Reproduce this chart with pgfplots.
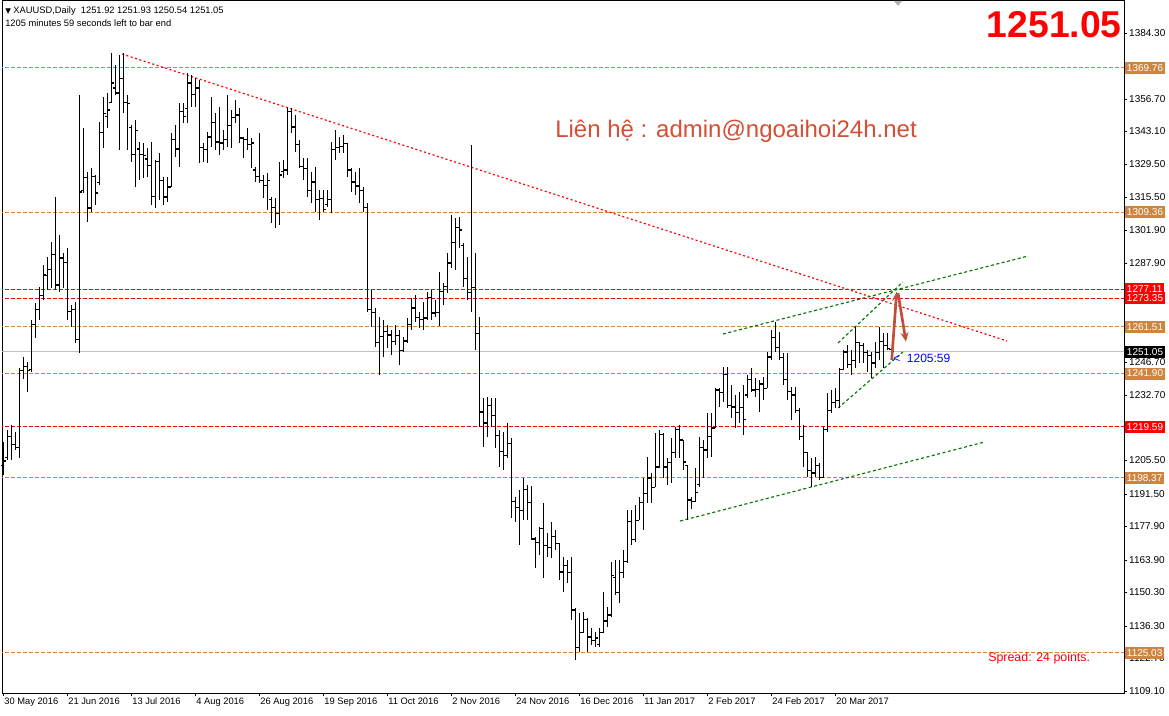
\documentclass[border=0pt]{standalone}
\usepackage{fontspec}
\setmainfont{Liberation Sans}
\newfontfamily\dejavu{DejaVu Sans}
\usepackage{pgfplots}
\usepackage{pgfplotstable}
\pgfplotsset{compat=1.18}
\usetikzlibrary{arrows.meta}
\definecolor{peru}{RGB}{205,133,63}
\definecolor{mtgreen}{RGB}{0,120,0}
\definecolor{arrowred}{RGB}{192,78,58}
\definecolor{contact}{RGB}{214,78,52}
\definecolor{bidgray}{RGB}{192,192,192}
\pgfdeclareplotmark{otick}{\pgfpathmoveto{\pgfqpoint{-1.9pt}{0pt}}\pgfpathlineto{\pgfqpoint{0pt}{0pt}}\pgfusepathqstroke}
\pgfdeclareplotmark{ctick}{\pgfpathmoveto{\pgfqpoint{0pt}{0pt}}\pgfpathlineto{\pgfqpoint{1.9pt}{0pt}}\pgfusepathqstroke}
\pgfplotstableread{
k o h l c
0 1203.6 1213.3 1199.5 1205.3
1 1206.6 1218.3 1205.7 1215.4
2 1215.4 1220.4 1205.7 1212.4
3 1212.4 1217.4 1209.9 1210.8
4 1210.8 1244.2 1206.6 1243.0
5 1243.0 1248.8 1239.6 1245.0
6 1245.0 1246.7 1234.2 1243.0
7 1243.4 1264.3 1242.5 1262.2
8 1262.2 1271.4 1256.8 1268.5
9 1268.5 1278.1 1264.3 1274.7
10 1274.7 1287.3 1272.6 1283.1
11 1282.7 1290.6 1276.8 1285.2
12 1285.2 1296.9 1277.7 1291.5
13 1291.5 1315.7 1276.8 1278.9
14 1278.9 1299.8 1276.0 1290.2
15 1290.2 1292.3 1277.7 1288.5
16 1288.5 1294.4 1264.3 1268.0
17 1268.0 1270.6 1261.4 1268.5
18 1268.5 1271.8 1254.7 1256.3
19 1256.3 1358.4 1250.5 1317.8
20 1318.6 1344.6 1317.4 1323.7
21 1323.7 1326.2 1305.3 1311.1
22 1311.1 1327.8 1309.4 1324.1
23 1324.1 1324.9 1312.4 1317.4
24 1321.6 1347.1 1320.7 1342.5
25 1342.5 1357.5 1336.2 1350.8
26 1349.2 1359.2 1344.6 1352.1
27 1355.4 1375.9 1355.0 1363.4
28 1361.3 1370.9 1358.4 1359.2
29 1359.2 1375.1 1335.4 1365.1
30 1365.1 1375.9 1350.8 1355.4
31 1355.4 1358.4 1335.4 1355.0
32 1344.6 1345.8 1330.4 1333.3
33 1333.3 1347.9 1319.9 1343.7
34 1335.8 1338.7 1322.8 1333.3
35 1333.3 1338.3 1323.7 1332.9
36 1331.6 1336.2 1324.1 1328.7
37 1328.7 1338.7 1312.4 1316.1
38 1316.1 1331.2 1311.1 1330.4
39 1330.4 1334.1 1314.5 1322.8
40 1322.8 1324.1 1312.4 1315.7
41 1315.7 1324.1 1313.6 1319.9
42 1319.9 1342.5 1319.9 1339.6
43 1339.6 1345.8 1332.4 1335.8
44 1335.8 1355.0 1328.3 1351.3
45 1351.3 1355.0 1346.7 1349.2
46 1352.9 1367.6 1346.7 1363.4
47 1363.4 1366.7 1353.4 1358.4
48 1358.4 1365.5 1353.4 1361.3
49 1361.3 1364.6 1329.9 1336.6
50 1336.6 1338.3 1330.4 1335.4
51 1335.4 1342.9 1329.9 1340.8
52 1340.8 1357.5 1336.6 1346.7
53 1346.7 1350.8 1335.4 1338.7
54 1338.7 1353.4 1333.3 1338.3
55 1338.3 1343.7 1335.4 1339.6
56 1339.6 1358.4 1336.6 1345.8
57 1345.8 1352.1 1336.2 1348.8
58 1348.8 1356.3 1346.7 1350.0
59 1350.0 1352.9 1338.3 1340.4
60 1340.4 1340.8 1332.0 1339.6
61 1339.6 1344.6 1335.4 1337.5
62 1337.5 1340.4 1327.8 1338.3
63 1327.0 1328.3 1322.0 1324.1
64 1324.1 1342.5 1321.6 1322.8
65 1322.8 1324.9 1315.3 1320.7
66 1320.7 1325.8 1310.3 1322.8
67 1314.5 1315.7 1304.8 1311.5
68 1311.5 1315.3 1302.8 1309.0
69 1309.0 1330.4 1304.0 1324.9
70 1326.2 1331.2 1323.7 1327.0
71 1327.0 1352.9 1324.9 1351.3
72 1351.3 1352.9 1342.5 1345.0
73 1345.0 1350.0 1334.5 1337.5
74 1337.5 1339.6 1327.8 1328.3
75 1328.3 1332.0 1322.8 1327.8
76 1327.8 1332.0 1315.7 1318.6
77 1318.6 1326.2 1313.2 1322.0
78 1322.0 1328.3 1309.4 1314.5
79 1314.5 1318.6 1306.1 1314.9
80 1314.9 1318.6 1309.4 1310.3
81 1312.4 1318.6 1311.5 1314.5
82 1314.5 1338.7 1309.0 1335.4
83 1335.4 1343.7 1331.2 1336.6
84 1336.6 1340.8 1334.1 1337.0
85 1337.0 1341.6 1334.1 1337.9
86 1337.9 1338.3 1324.1 1327.0
87 1327.0 1327.8 1317.8 1322.0
88 1322.0 1326.2 1316.6 1320.3
89 1320.3 1327.8 1313.2 1318.6
90 1318.6 1319.9 1309.4 1311.5
91 1311.5 1313.2 1267.6 1268.5
92 1268.5 1276.8 1261.4 1267.6
93 1267.6 1269.3 1253.0 1254.7
94 1254.7 1265.5 1241.3 1257.2
95 1257.2 1264.3 1248.8 1259.3
96 1259.3 1262.2 1252.6 1258.0
97 1258.0 1260.1 1249.6 1255.1
98 1255.1 1262.2 1253.8 1257.6
99 1257.6 1260.1 1245.5 1251.7
100 1251.7 1257.2 1250.9 1255.5
101 1255.5 1265.1 1254.7 1262.2
102 1262.2 1273.5 1260.1 1269.3
103 1269.3 1274.7 1263.4 1265.5
104 1265.5 1267.6 1260.9 1264.3
105 1264.3 1271.8 1260.1 1265.1
106 1265.1 1276.0 1264.3 1273.5
107 1273.5 1276.8 1264.3 1267.2
108 1267.2 1272.6 1265.5 1267.6
109 1267.6 1284.3 1261.8 1276.0
110 1276.0 1279.8 1270.6 1278.1
111 1278.1 1292.3 1275.6 1288.1
112 1288.1 1308.2 1286.0 1296.5
113 1296.5 1306.9 1285.2 1302.8
114 1302.8 1307.4 1294.4 1301.9
115 1295.6 1296.5 1278.1 1281.8
116 1281.8 1290.6 1272.6 1275.6
117 1275.6 1337.5 1267.6 1277.7
118 1277.7 1292.3 1251.7 1258.8
119 1258.8 1265.5 1219.5 1225.8
120 1225.8 1231.7 1211.2 1221.2
121 1221.2 1232.1 1215.4 1228.7
122 1228.7 1231.7 1219.5 1224.5
123 1224.5 1231.7 1210.8 1215.8
124 1215.8 1218.3 1202.8 1209.1
125 1209.1 1217.4 1201.5 1207.8
126 1207.8 1221.2 1206.6 1212.8
127 1212.8 1214.9 1181.5 1188.2
128 1188.2 1190.3 1179.8 1185.7
129 1185.7 1193.2 1170.2 1184.8
130 1184.8 1198.2 1180.6 1193.2
131 1193.2 1195.3 1180.6 1187.8
132 1187.8 1194.9 1172.3 1172.7
133 1172.7 1173.5 1160.6 1171.4
134 1171.4 1177.7 1166.0 1176.9
135 1176.9 1187.8 1156.4 1169.8
136 1169.8 1175.2 1165.2 1169.3
137 1169.3 1179.8 1164.7 1173.9
138 1173.9 1176.5 1168.1 1171.0
139 1171.0 1171.0 1155.5 1158.9
140 1158.9 1165.2 1150.5 1161.8
141 1161.8 1163.9 1154.3 1158.5
142 1158.5 1165.2 1138.8 1143.0
143 1143.0 1143.8 1122.1 1127.5
144 1127.5 1141.7 1125.4 1133.4
145 1133.4 1142.2 1133.4 1139.2
146 1139.2 1139.6 1125.4 1131.7
147 1131.7 1135.5 1128.4 1130.4
148 1130.4 1133.8 1127.5 1131.3
149 1128.4 1135.5 1127.5 1133.4
150 1133.4 1150.5 1133.4 1138.4
151 1138.4 1144.3 1135.9 1140.9
152 1140.9 1163.1 1140.1 1157.6
153 1156.4 1163.9 1149.3 1150.5
154 1150.5 1163.9 1145.9 1158.5
155 1158.5 1168.1 1156.4 1163.1
156 1163.1 1184.8 1162.7 1180.2
157 1180.2 1184.8 1170.2 1172.3
158 1172.3 1186.9 1171.4 1180.6
159 1180.6 1190.3 1180.6 1187.8
160 1187.8 1198.2 1176.5 1191.9
161 1191.9 1207.0 1187.8 1198.2
162 1198.2 1200.3 1187.8 1194.4
163 1194.4 1217.0 1194.4 1202.8
164 1202.8 1218.3 1202.4 1216.2
165 1216.2 1217.0 1198.2 1202.8
166 1202.8 1206.6 1195.3 1204.5
167 1204.5 1214.9 1196.1 1208.7
168 1208.7 1219.5 1206.6 1218.3
169 1218.3 1220.4 1206.6 1214.1
170 1214.1 1214.1 1201.5 1204.9
171 1203.6 1203.6 1180.6 1189.0
172 1189.0 1190.3 1185.1 1188.2
173 1188.2 1202.4 1188.2 1192.3
174 1195.3 1215.4 1194.4 1210.8
175 1210.8 1214.1 1198.2 1209.9
176 1209.9 1225.4 1206.6 1215.4
177 1215.4 1225.4 1207.0 1219.1
178 1219.1 1235.8 1219.1 1235.0
179 1235.0 1235.8 1227.9 1233.8
180 1233.8 1244.6 1230.0 1241.3
181 1241.3 1244.6 1227.5 1228.7
182 1228.7 1237.1 1223.3 1227.9
183 1227.9 1232.9 1219.1 1225.4
184 1225.4 1234.2 1221.2 1227.5
185 1227.5 1237.1 1216.2 1222.5
186 1232.9 1241.3 1231.7 1239.2
187 1239.2 1244.2 1234.2 1235.0
188 1235.0 1240.0 1232.1 1235.4
189 1235.4 1239.2 1225.8 1237.5
190 1237.5 1240.4 1230.8 1235.8
191 1235.8 1250.9 1235.8 1248.8
192 1248.8 1260.1 1247.5 1256.8
193 1256.8 1263.4 1250.9 1252.6
194 1252.6 1259.3 1247.5 1248.4
195 1248.4 1250.5 1237.1 1239.2
196 1239.2 1250.5 1230.8 1234.2
197 1234.2 1236.3 1222.5 1232.9
198 1232.9 1236.3 1225.4 1226.6
199 1226.6 1227.5 1214.1 1215.4
200 1215.4 1220.4 1202.8 1208.7
201 1208.7 1209.1 1198.6 1201.5
202 1201.5 1206.6 1194.4 1200.3
203 1200.3 1207.0 1198.6 1203.6
204 1203.6 1204.5 1197.4 1198.6
205 1198.6 1219.5 1198.2 1218.3
206 1218.3 1233.8 1217.4 1226.6
207 1226.6 1235.0 1225.4 1229.6
208 1229.6 1235.8 1227.5 1230.8
209 1230.8 1244.2 1227.5 1243.4
210 1243.4 1251.7 1243.4 1250.9
211 1250.9 1253.8 1244.2 1245.5
212 1245.5 1251.7 1241.3 1247.5
213 1247.5 1261.4 1244.2 1254.7
214 1254.7 1255.1 1246.3 1253.8
215 1253.8 1254.7 1246.3 1250.5
216 1250.5 1251.7 1242.5 1249.6
217 1249.6 1250.9 1240.0 1246.3
218 1246.3 1255.1 1244.2 1250.5
219 1250.5 1261.4 1247.5 1255.1
220 1255.1 1258.8 1244.2 1253.8
221 1253.8 1258.8 1251.7 1252.2
222 1251.92 1251.93 1250.54 1251.05
}\bars

\begin{document}
\begin{tikzpicture}
\begin{axis}[
  at={(1.5pt,-519.75pt)}, anchor=south west,
  width=841.5pt, height=519pt, scale only axis,
  xmin=-0.325, xmax=280.175, ymin=1108.29, ymax=1397.68,
  axis line style={black, line width=0.75pt},
  xtick={0,16,...,208},
  xticklabels={30 May 2016,21 Jun 2016,13 Jul 2016,4 Aug 2016,26 Aug 2016,19 Sep 2016,11 Oct 2016,2 Nov 2016,24 Nov 2016,16 Dec 2016,11 Jan 2017,2 Feb 2017,24 Feb 2017,20 Mar 2017},
  ytick={1109.10,1122.70,1136.30,1150.30,1163.90,1177.90,1191.50,1205.50,1219.10,1232.70,1246.70,1260.30,1274.30,1287.90,1301.90,1315.50,1329.50,1343.10,1356.70,1370.30,1384.30},
  yticklabels={1109.10,1122.70,1136.30,1150.30,1163.90,1177.90,1191.50,1205.50,,1232.70,1246.70,1260.30,,1287.90,1301.90,1315.50,1329.50,1343.10,1356.70,,1384.30},
  xtick pos=bottom, ytick pos=right, yticklabel pos=right,
  tick align=outside, major tick length=2.5pt,
  tick style={black, line width=0.6pt},
  xticklabel style={anchor=north west, inner xsep=0.6pt, inner ysep=1.2pt, font=\fontsize{7}{8}\selectfont},
  yticklabel style={anchor=west, inner xsep=1.2pt, font=\fontsize{7.5}{8}\selectfont},
]
% horizontal levels
\tikzset{lvl/.style={line width=0.75pt, dash pattern=on 2.6pt off 1.9pt}}
\addplot[peru, lvl] coordinates {(-1,1369.76) (281,1369.76)};
\addplot[peru, lvl] coordinates {(-1,1309.36) (281,1309.36)};
\addplot[peru, lvl] coordinates {(-1,1261.51) (281,1261.51)};
\addplot[peru, lvl] coordinates {(-1,1241.90) (281,1241.90)};
\addplot[peru, lvl] coordinates {(-1,1198.37) (281,1198.37)};
\addplot[peru, lvl] coordinates {(-1,1125.03) (281,1125.03)};
\addplot[red, lvl] coordinates {(-1,1277.11) (281,1277.11)};
\addplot[red, lvl] coordinates {(-1,1273.35) (281,1273.35)};
\addplot[red, lvl] coordinates {(-1,1219.59) (281,1219.59)};
\addplot[bidgray, line width=0.7pt] coordinates {(-1,1251.05) (281,1251.05)};
% trend lines
\addplot[red, line width=0.9pt, dash pattern=on 1.5pt off 1.9pt] coordinates {(29.7,1375.5) (250.9,1255.5)};
\addplot[mtgreen, line width=0.85pt, dash pattern=on 2.25pt off 1.9pt] coordinates {(169.2,1180.2) (245.4,1213.3)};
\addplot[mtgreen, line width=0.85pt, dash pattern=on 2.25pt off 1.9pt] coordinates {(179.9,1258.4) (255.9,1290.9)};
\addplot[mtgreen, line width=0.85pt, dash pattern=on 2.25pt off 1.9pt] coordinates {(208.7,1254.7) (224.9,1280.2)};
\addplot[mtgreen, line width=0.85pt, dash pattern=on 2.25pt off 1.9pt] coordinates {(208.7,1227.5) (224.9,1250.9)};
% OHLC bars: high-low range
\addplot[draw=none, mark=none, error bars/.cd, y dir=both, y explicit, error mark=none, error bar style={draw=black, solid, line width=0.9pt}]
  table[x=k, y expr={(\thisrow{h}+\thisrow{l})/2}, y error expr={(\thisrow{h}-\thisrow{l})/2}] {\bars};
% open and close ticks
\addplot[only marks, mark=otick, mark options={black, line width=0.8pt}] table[x=k, y=o] {\bars};
\addplot[only marks, mark=ctick, mark options={black, line width=0.8pt}] table[x=k, y=c] {\bars};
% anchors for right-side labels
\coordinate (b1) at (axis cs:280.175,1369.76);
\coordinate (b2) at (axis cs:280.175,1309.36);
\coordinate (b3) at (axis cs:280.175,1277.11);
\coordinate (b4) at (axis cs:280.175,1273.35);
\coordinate (b5) at (axis cs:280.175,1261.51);
\coordinate (b6) at (axis cs:280.175,1251.05);
\coordinate (b7) at (axis cs:280.175,1241.90);
\coordinate (b8) at (axis cs:280.175,1219.59);
\coordinate (b9) at (axis cs:280.175,1198.37);
\coordinate (b10) at (axis cs:280.175,1125.03);
\end{axis}
\tikzset{box/.style={anchor=west, xshift=0.6pt, inner xsep=1.4pt, inner ysep=0pt, minimum height=9pt, text=white, font=\fontsize{7.5}{8}\selectfont}}
\node[box, fill=peru] at (b1) {1369.76};
\node[box, fill=peru] at (b2) {1309.36};
\node[box, fill=red] at (b3) {1277.11};
\node[box, fill=red] at (b4) {1273.35};
\node[box, fill=peru] at (b5) {1261.51};
\node[box, fill=black] at (b6) {1251.05};
\node[box, fill=peru] at (b7) {1241.90};
\node[box, fill=red] at (b8) {1219.59};
\node[box, fill=peru] at (b9) {1198.37};
\node[box, fill=peru] at (b10) {1125.03};
\begin{scope}[x=0.75pt, y=-0.75pt]
\node[anchor=base west, inner sep=0, font=\fontsize{7}{8}\selectfont] at (5,14) {{\dejavu\fontsize{5.5}{6}\selectfont ▼}\ XAUUSD,Daily\ \ 1251.92 1251.93 1250.54 1251.05};
\node[anchor=base west, inner sep=0, font=\fontsize{7}{8}\selectfont] at (5,27) {1205 minutes 59 seconds left to bar end};
\node[anchor=base east, inner sep=0, text=red, font=\fontsize{28}{30}\selectfont\bfseries] at (1122,38) {1251.05};
\node[anchor=base west, inner sep=0, text=contact, font=\fontsize{18}{20}\selectfont] at (555,138) {Liên hệ : admin@ngoaihoi24h.net};
\node[anchor=base west, inner sep=0, text=red, font=\fontsize{9.3}{10}\selectfont] at (988,661) {Spread: 24 points.};
\node[anchor=base west, inner sep=0, text=blue, font=\fontsize{9}{10}\selectfont] at (893,362) {<\ \ 1205:59};
\draw[arrowred, line width=2pt, -{Stealth[length=7pt,width=6pt]}] (891.7,360) -- (896.7,291.7);
\draw[arrowred, line width=2pt, -{Stealth[length=7pt,width=6pt]}] (898,293) -- (906,341.7);
\fill[gray!60] (894,1) -- (902,1) -- (898,6) -- cycle;
\end{scope}
\pgfresetboundingbox
\path (0pt,0pt) rectangle (876.75pt,-537pt);
\end{tikzpicture}
\end{document}
